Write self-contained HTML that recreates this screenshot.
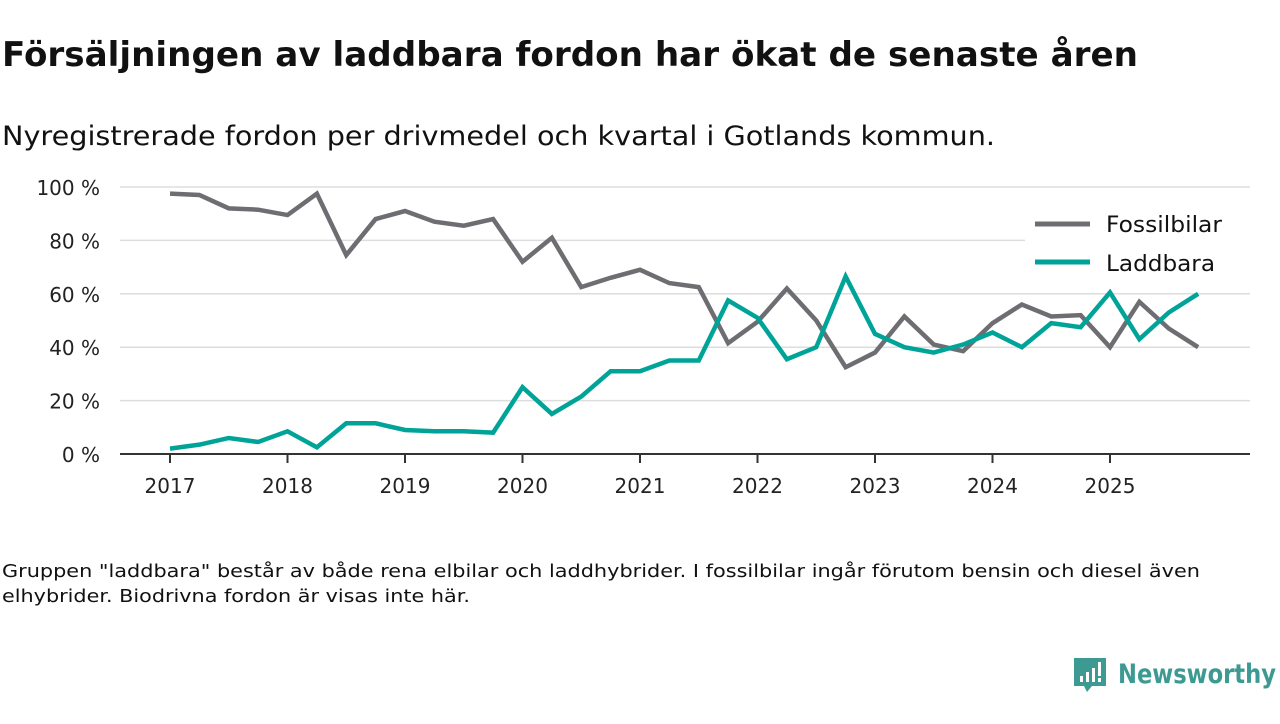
<!DOCTYPE html>
<html><head><meta charset="utf-8"><style>
body{margin:0;width:1280px;height:720px;background:#fff;overflow:hidden;font-family:"DejaVu Sans","Liberation Sans",sans-serif;color:#111}
</style></head><body>
<svg width="1280" height="720" xmlns="http://www.w3.org/2000/svg">
<text x="2" y="66" font-size="34" font-weight="bold" fill="#111" textLength="1136" lengthAdjust="spacingAndGlyphs">Försäljningen av laddbara fordon har ökat de senaste åren</text>
<text x="2" y="145" font-size="27" fill="#111" textLength="993" lengthAdjust="spacingAndGlyphs">Nyregistrerade fordon per drivmedel och kvartal i Gotlands kommun.</text>
<g id="grid"></g>
<g id="axes"></g>
<g id="lines"></g>
<g>
<rect x="1025" y="205" width="225" height="80" fill="#fff"/>
<line x1="1035" y1="224" x2="1090" y2="224" stroke="#6e6d72" stroke-width="5"/>
<text x="1106" y="232" font-size="22" fill="#111" textLength="116" lengthAdjust="spacingAndGlyphs">Fossilbilar</text>
<line x1="1035" y1="262" x2="1090" y2="262" stroke="#00a398" stroke-width="5"/>
<text x="1106" y="271" font-size="22" fill="#111" textLength="109" lengthAdjust="spacingAndGlyphs">Laddbara</text>
</g>
<text x="2" y="577" font-size="18" fill="#111" textLength="1198" lengthAdjust="spacingAndGlyphs">Gruppen "laddbara" består av både rena elbilar och laddhybrider. I fossilbilar ingår förutom bensin och diesel även</text>
<text x="2" y="602" font-size="18" fill="#111" textLength="468" lengthAdjust="spacingAndGlyphs">elhybrider. Biodrivna fordon är visas inte här.</text>
<g>
<path d="M1074 658 h32 v28 h-14 l-5 6 l-3 -6 h-10 z" fill="#3d9a92"/>
<rect x="1080" y="676" width="3" height="6" fill="#fff"/><rect x="1086" y="672" width="3" height="10" fill="#fff"/><rect x="1092" y="668" width="3" height="14" fill="#fff"/><rect x="1098" y="662" width="3" height="14" fill="#fff"/><rect x="1098" y="678" width="3" height="4" fill="#fff"/>
<text x="1118" y="683" font-size="27" font-weight="bold" fill="#3d9a92" textLength="158" lengthAdjust="spacingAndGlyphs">Newsworthy</text>
</g>
</svg>
<script>
const years=["2017","2018","2019","2020","2021","2022","2023","2024","2025"];
const yTicks=[0,20,40,60,80,100];
const fossil=[97.5,97,92,91.5,89.5,97.5,74.5,88,91,87,85.5,88,72,81,62.5,66,69,64,62.5,41.5,49.5,62,50,32.5,38,51.5,41,38.5,49,56,51.5,52,40,57,47,40];
const laddbara=[2,3.5,6,4.5,8.5,2.5,11.5,11.5,9,8.5,8.5,8,25,15,21.5,31,31,35,35,57.5,51,35.5,40,66.5,45,40,38,41,45.5,40,49,47.5,60.5,43,53,60];
const NS="http://www.w3.org/2000/svg";
const y=v=>454-v*2.67;
const x=i=>170+i*29.375;
function mk(t,a,p){const e=document.createElementNS(NS,t);for(const k in a)e.setAttribute(k,a[k]);document.getElementById(p).appendChild(e);return e;}
yTicks.forEach(v=>{
 if(v>0){const g=mk('line',{x1:120,x2:1250,y1:y(v),y2:y(v),stroke:'#ddd','stroke-width':1.5},'grid');
 
 }
 const t=mk('text',{x:100,y:y(v)+8,'font-size':20,'text-anchor':'end',fill:'#222'},'axes');t.textContent=v+' %';
 
 
});
const ax=mk('line',{x1:120,x2:1250,y1:454,y2:454,stroke:'#333','stroke-width':2},'axes');


years.forEach((yr,i)=>{
 const xx=x(i*4);
 const tk=mk('line',{x1:xx,x2:xx,y1:454,y2:463,stroke:'#333','stroke-width':2},'axes');
 
 
 const t=mk('text',{x:xx,y:493,'font-size':20,'text-anchor':'middle',fill:'#222'},'axes');t.textContent=yr;
 
 
});
function line(d,c,n){
 const p=mk('polyline',{points:d.map((v,i)=>x(i)+','+y(v)).join(' '),fill:'none',stroke:c,'stroke-width':4.5,'stroke-linejoin':'miter'},'lines');
 
 
}
line(fossil,'#6e6d72','line-fossilbilar');
line(laddbara,'#00a398','line-laddbara');
</script>
</body></html>
